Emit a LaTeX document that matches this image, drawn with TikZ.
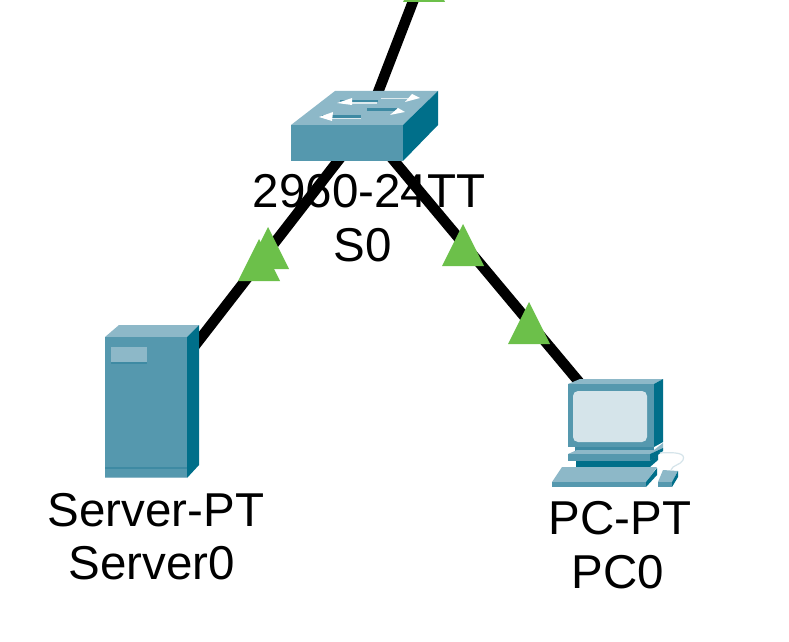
\documentclass[tikz,border=0pt]{standalone}
\usepackage{fontspec}
\setmainfont{Liberation Sans}
\definecolor{topc}{HTML}{8DB8C8}
\definecolor{front}{HTML}{5598AE}
\definecolor{side}{HTML}{006F8A}
\definecolor{mid}{HTML}{3E8AA3}
\definecolor{scr}{HTML}{D5E4EA}
\definecolor{linkgreen}{HTML}{6CC04A}
\tikzset{
  anchorbox/.style={inner sep=0pt,minimum size=1pt},
  link/.style={line width=10.5bp,black},
  lbl/.style={inner sep=0pt,align=center,font=\fontsize{47.5bp}{53bp}\selectfont,text=black},
  led/.style={fill=linkgreen,draw=none},
  ft/.style={fill=front,draw=none},
  tp/.style={fill=topc,draw=none},
  sd/.style={fill=side,draw=none},
}
\begin{document}
\begin{tikzpicture}[x=1bp,y=-1bp]
\useasboundingbox (0,0) rectangle (789,642);
\clip (0,0) rectangle (789,642);
\fill[white] (0,0) rectangle (789,642);
\node[anchorbox] (sw) at (365,126) {};
\node[anchorbox] (srv) at (152,401) {};
\node[anchorbox] (pc) at (615,425) {};
\coordinate (up) at (419,-14);
\draw[link] (sw.center) -- (up);
\draw[link] (sw.center) -- (srv.center);
\draw[link] (sw.center) -- (pc.center);
% switch
\fill[tp] (291,125) -- (335,91) -- (438,91) -- (403,125) -- cycle;
\fill[ft] (291,125) rectangle (403,161);
\fill[sd] (403,125) -- (438,91) -- (438,125) -- (403,161) -- cycle;
\fill[mid] (340,100) rectangle (378,102.5);
\fill[white!70!topc] (347,102.5) rectangle (377,104);
\fill[mid] (322,115) rectangle (361,118);
\fill[white!70!topc] (330,118) rectangle (361,119.5);
\fill[mid] (367,108) rectangle (397,111.5);
\fill[white!70!topc] (381,98) rectangle (410,99.5);
\fill[white] (337,103) -- (352,98) -- (352,105) -- cycle;
\fill[white] (319,117) -- (333,112) -- (332,121) -- cycle;
\fill[white] (405,102) -- (412,94) -- (420,98) -- cycle;
\fill[white] (390,115) -- (398,108) -- (405,112) -- cycle;
% server
\fill[tp] (105,337) -- (119,325) -- (199,325) -- (187,337) -- cycle;
\fill[ft] (105,337) rectangle (187,478);
\fill[sd] (187,337) -- (199,325) -- (199,465) -- (187,478) -- cycle;
\fill[mid] (111,348) rectangle (147,364);
\fill[topc] (111,347) rectangle (147,362);
\fill[mid] (105,467) rectangle (187,469);
\fill[topc] (105,477) rectangle (187,478);
% pc
\fill[tp] (568,384) -- (580,379) -- (663,379) -- (654,384) -- cycle;
\fill[ft] (568,384) rectangle (654,447);
\fill[sd] (654,384) -- (663,379) -- (663,442) -- (654,447) -- cycle;
\fill[scr,rounded corners=5bp] (573,391) rectangle (647,442);
\fill[mid] (575,447) rectangle (654,452);
\fill[tp] (568,454) -- (577,450) -- (654,450) -- (663,443) -- (663,448) -- (650,454) -- cycle;
\fill[ft] (568,454) rectangle (650,461);
\fill[sd] (650,454) -- (663,448) -- (663,451) -- (650,461) -- cycle;
\fill[side] (576,461) rectangle (650,467);
\fill[sd] (650,461) -- (658,454) -- (658,460) -- (650,467) -- cycle;
\draw[scr,line width=1.2bp] (660,453) .. controls (676,452) and (686,453) .. (683,460) .. controls (681,465) and (672,465) .. (671,470);
\fill[tp] (562,467) -- (657,467) -- (646,482) -- (552,482) -- cycle;
\fill[ft] (552,482) rectangle (646,487);
\fill[sd] (646,482) -- (657,468) -- (657,475) -- (646,487) -- cycle;
\fill[tp] (663,470) -- (678,471) -- (672,482) -- (658,482) -- cycle;
\fill[ft] (658,482) rectangle (672,487);
\fill[sd] (672,482) -- (678,471) -- (678,477) -- (672,487) -- cycle;
% link lights
\fill[led] (424,-40) -- (445,2) -- (403,2) -- cycle;
\fill[led] (259,239) -- (280,281) -- (238,281) -- cycle;
\fill[led] (268,227) -- (289,269) -- (247,269) -- cycle;
\fill[led] (463,224) -- (484,266) -- (442,266) -- cycle;
\fill[led] (529,302) -- (550,344) -- (508,344) -- cycle;
% labels
\node[lbl] (swl1) at (369,191) {2960-24TT};
\node[lbl] (swl2) at (363,245) {S0};
\node[lbl] (srl1) at (156,510) {Server-PT};
\node[lbl] (srl2) at (152,563) {Server0};
\node[lbl] (pcl1) at (620,518) {PC-PT};
\node[lbl] (pcl2) at (618,572) {PC0};
\end{tikzpicture}
\end{document}
